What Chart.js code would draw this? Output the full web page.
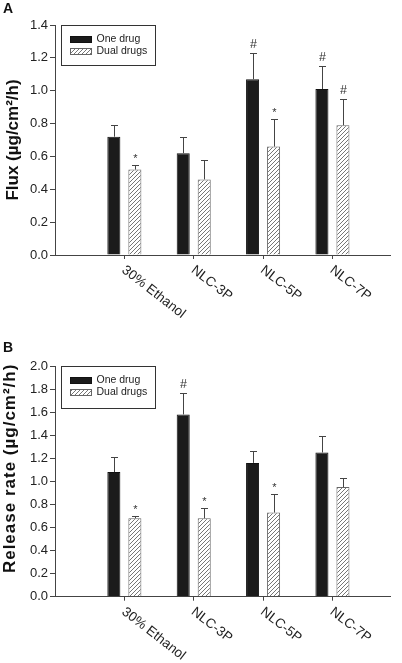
<!DOCTYPE html>
<html>
<head>
<meta charset="utf-8">
<script src="https://cdn.jsdelivr.net/npm/chart.js@4.4.1/dist/chart.umd.min.js"></script>
<style>
  html, body { margin: 0; padding: 0; background: #fff; }
  body { width: 402px; height: 663px; position: relative; overflow: hidden; }
  .panel { position: absolute; left: 0; width: 402px; }
  #panelA { top: 0; height: 330px; }
  #panelB { top: 330px; height: 333px; }
  .letter { position: absolute; left: 3px; font: bold 14px "Liberation Sans", Arial, sans-serif; color: #111; }
</style>
</head>
<body>
<div class="panel" id="panelA">
  <canvas id="chartA" width="402" height="330"></canvas>
  <div class="letter" style="top:0px">A</div>
</div>
<div class="panel" id="panelB">
  <canvas id="chartB" width="402" height="333"></canvas>
  <div class="letter" style="top:9px">B</div>
</div>
<script>
const categories = ['30% Ethanol', 'NLC-3P', 'NLC-5P', 'NLC-7P'];
const seriesNames = ['One drug', 'Dual drugs'];
const catPositions = [1, 2, 3, 4];

// panel A: flux
const fluxOne = [0.72, 0.62, 1.07, 1.01];
const fluxOneErr = [0.07, 0.10, 0.16, 0.14];
const fluxDual = [0.52, 0.46, 0.66, 0.79];
const fluxDualErr = [0.03, 0.12, 0.17, 0.16];
const fluxOneMarks = ['', '', '#', '#'];
const fluxDualMarks = ['*', '', '*', '#'];
const fluxTicks = [0.0, 0.2, 0.4, 0.6, 0.8, 1.0, 1.2, 1.4];

// panel B: release rate
const releaseOne = [1.08, 1.58, 1.16, 1.25];
const releaseOneErr = [0.13, 0.19, 0.10, 0.14];
const releaseDual = [0.68, 0.68, 0.73, 0.95];
const releaseDualErr = [0.02, 0.09, 0.16, 0.08];
const releaseOneMarks = ['', '#', '', ''];
const releaseDualMarks = ['*', '*', '*', ''];
const releaseTicks = [0.0, 0.2, 0.4, 0.6, 0.8, 1.0, 1.2, 1.4, 1.6, 1.8, 2.0];

const FONT = '"Liberation Sans", Arial, Helvetica, sans-serif';

function makeHatch() {
  const c = document.createElement('canvas');
  c.width = 4; c.height = 4;
  const g = c.getContext('2d');
  g.fillStyle = '#fff';
  g.fillRect(0, 0, 4, 4);
  g.strokeStyle = '#666';
  g.lineWidth = 0.9;
  g.beginPath();
  g.moveTo(0, 4); g.lineTo(4, 0);
  g.moveTo(-1, 1); g.lineTo(1, -1);
  g.moveTo(3, 5); g.lineTo(5, 3);
  g.stroke();
  return g.createPattern(c, 'repeat');
}

// error bars, significance marks, legend box and slanted category labels
const extras = {
  id: 'extras',
  beforeDraw(chart, args, opts) {
    const ys = chart.scales.y;
    if (!ys._wrapped) {
      const orig = ys.drawTitle;
      ys.drawTitle = function () {
        this.ctx.save();
        this.ctx.translate(0, opts.titleShift || 0);
        this.ctx.letterSpacing = opts.titleSpacing || '0px';
        orig.apply(this, arguments);
        this.ctx.restore();
      };
      ys._wrapped = true;
    }
  },
  afterDatasetsDraw(chart) {
    const ctx = chart.ctx;
    const ys = chart.scales.y;
    ctx.save();
    chart.data.datasets.forEach((ds, i) => {
      const meta = chart.getDatasetMeta(i);
      meta.data.forEach((bar, j) => {
        const top = ys.getPixelForValue(ds.data[j].y + ds.errors[j]);
        const x = Math.round(bar.x) + 0.5;
        ctx.strokeStyle = '#444';
        ctx.lineWidth = 1;
        ctx.beginPath();
        ctx.moveTo(x, bar.y);
        ctx.lineTo(x, Math.round(top) + 0.5);
        ctx.moveTo(x - 3.5, Math.round(top) + 0.5);
        ctx.lineTo(x + 3.5, Math.round(top) + 0.5);
        ctx.stroke();
        const m = ds.marks[j];
        if (m) {
          ctx.fillStyle = '#333';
          ctx.textAlign = 'center';
          ctx.textBaseline = 'alphabetic';
          if (m === '#') {
            ctx.font = '12.5px ' + FONT;
            ctx.fillText(m, x, top - 5);
          } else {
            ctx.font = '11px ' + FONT;
            ctx.fillText(m, x, top - 3);
          }
        }
      });
    });
    ctx.restore();
  },
  afterDraw(chart, args, opts) {
    const ctx = chart.ctx;
    const area = chart.chartArea;
    const xs = chart.scales.x;
    ctx.save();
    // category labels
    ctx.font = '13.5px ' + FONT;
    ctx.fillStyle = '#222';
    ctx.textAlign = 'left';
    ctx.textBaseline = 'middle';
    categories.forEach((c, i) => {
      const px = xs.getPixelForValue(catPositions[i]);
      ctx.save();
      ctx.translate(px - 1, area.bottom + 13.5);
      ctx.rotate(38 * Math.PI / 180);
      ctx.fillText(c, 0, 0);
      ctx.restore();
    });
    // legend
    const bx = area.left + 6.5, by = area.top + 0.5, bw = 94, bh = opts.legendH;
    ctx.strokeStyle = '#333';
    ctx.lineWidth = 1;
    ctx.strokeRect(bx, by, bw, bh);
    ctx.font = '10.5px ' + FONT;
    ctx.textBaseline = 'middle';
    chart.data.datasets.forEach((ds, i) => {
      const cy = area.top + 14.5 + i * 12;
      ctx.fillStyle = ds.backgroundColor;
      ctx.fillRect(bx + 8.5, cy - 3.5, 22, 7);
      ctx.strokeStyle = ds.borderColor;
      ctx.strokeRect(bx + 9, cy - 3, 21, 6);
      ctx.fillStyle = '#222';
      ctx.fillText(ds.label, bx + 35, cy);
    });
    ctx.restore();
  }
};

function drawPanel(id, p) {
  const hatch = makeHatch();
  const shared = { borderWidth: 1, categoryPercentage: 0.606, barPercentage: 0.62 };
  return new Chart(document.getElementById(id), {
    type: 'bar',
    data: {
      datasets: [
        Object.assign({
          label: seriesNames[0],
          data: p.one.map((v, i) => ({ x: catPositions[i], y: v })),
          errors: p.oneErr, marks: p.oneMarks,
          backgroundColor: '#1b1b1b', borderColor: '#111'
        }, shared),
        Object.assign({
          label: seriesNames[1],
          data: p.dual.map((v, i) => ({ x: catPositions[i], y: v })),
          errors: p.dualErr, marks: p.dualMarks,
          backgroundColor: hatch, borderColor: '#666'
        }, shared)
      ]
    },
    options: {
      responsive: false,
      animation: false,
      layout: { padding: { top: p.top, right: 12, left: 0, bottom: 0 } },
      plugins: {
        legend: { display: false },
        tooltip: { enabled: false },
        extras: { legendH: p.legendH, titleShift: p.titleShift, titleSpacing: p.titleSpacing }
      },
      scales: {
        x: {
          type: 'linear', min: 0, max: 4.83, offset: false,
          afterBuildTicks: s => { s.ticks = catPositions.map(v => ({ value: v })); },
          afterFit: s => { s.height = p.xHeight; },
          ticks: { display: false },
          grid: { offset: false, drawOnChartArea: false, drawTicks: true, tickLength: 4, color: '#444' },
          border: { display: true, color: '#444', width: 1 }
        },
        y: {
          min: 0, max: p.ticks[p.ticks.length - 1],
          afterBuildTicks: s => { s.ticks = p.ticks.map(v => ({ value: v })); },
          afterFit: s => { s.width = 55; },
          ticks: { callback: v => Number(v).toFixed(1), color: '#222', font: { family: FONT, size: 13 }, padding: 2 },
          grid: { drawOnChartArea: false, tickLength: 5, color: '#444' },
          border: { display: true, color: '#444', width: 1 },
          title: {
            display: true, text: p.title, color: '#111',
            font: { family: FONT, size: 17, weight: 'bold', lineHeight: 1.2 },
            padding: { top: p.titlePad, bottom: 0 }
          }
        }
      }
    },
    plugins: [extras]
  });
}

drawPanel('chartA', {
  one: fluxOne, oneErr: fluxOneErr, oneMarks: fluxOneMarks,
  dual: fluxDual, dualErr: fluxDualErr, dualMarks: fluxDualMarks,
  ticks: fluxTicks, title: 'Flux (µg/cm²/h)',
  top: 25, xHeight: 75, legendH: 40, titlePad: 3, titleShift: 0, titleSpacing: '0px'
});

drawPanel('chartB', {
  one: releaseOne, oneErr: releaseOneErr, oneMarks: releaseOneMarks,
  dual: releaseDual, dualErr: releaseDualErr, dualMarks: releaseDualMarks,
  ticks: releaseTicks, title: 'Release rate (µg/cm²/h)',
  top: 36, xHeight: 66.3, legendH: 42, titlePad: 0, titleShift: -13, titleSpacing: '1px'
});
</script>
</body>
</html>
